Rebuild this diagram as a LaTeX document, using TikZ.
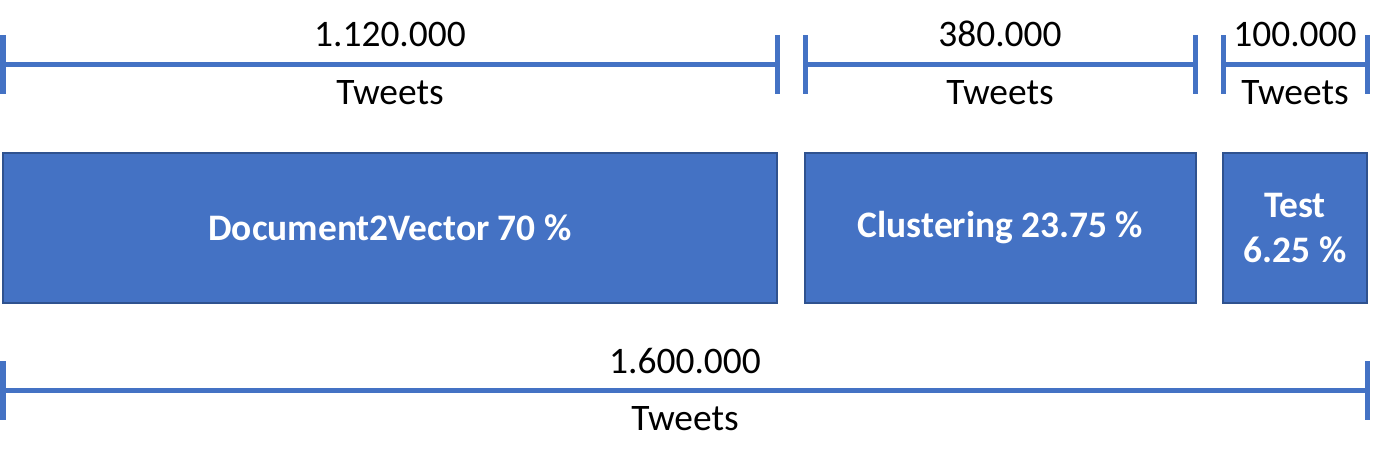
\documentclass[tikz,border=0pt]{standalone}
\usepackage{fontspec}
\setmainfont{Carlito}
\usepackage{tikz}
\usetikzlibrary{arrows.meta,positioning}
\definecolor{barblue}{HTML}{4472C4}
\definecolor{edgeblue}{HTML}{2F528F}
\tikzset{font=\fontsize{21.3}{25.6}\selectfont}
\tikzstyle{part}=[draw=edgeblue,fill=barblue,line width=1.1pt,text=white,font=\fontsize{21.3}{25.6}\selectfont\bfseries,align=center,minimum height=3cm,inner sep=0pt]
\tikzstyle{span}=[barblue,line width=2.85pt,{Bar[width=1.18cm]}-{Bar[width=1.18cm]}]
\tikzstyle{count}=[text=black,anchor=base,yshift=0.35cm]
\tikzstyle{unit}=[text=black,anchor=base,yshift=-0.81cm]

\begin{document}
\begin{tikzpicture}
  [x=0.02cm,y=-0.02cm]
\useasboundingbox (0,0) rectangle (1399,465);
\node[part,minimum width=15.48cm] (d2v) at (390,228) {Document2Vector 70 \%};
\node[part,minimum width=7.82cm] (clu) at (1000.5,228) {Clustering 23.75 \%};
\node[part,minimum width=2.88cm] (tst) at (1295,228) {Test\\6.25 \%};
\coordinate (l1) at (0.5,64.5);
\coordinate (r1) at (779.5,64.5);
\coordinate (l2) at (802.5,64.5);
\coordinate (r2) at (1197.5,64.5);
\coordinate (l3) at (1220.5,64.5);
\coordinate (r3) at (1369.5,64.5);
\coordinate (l4) at (0.5,390.5);
\coordinate (r4) at (1369.5,390.5);
\path[span]
(l1) edge node[count]{1.120.000} node[unit]{Tweets} (r1)
(l2) edge node[count]{380.000} node[unit]{Tweets} (r2)
(l3) edge node[count]{100.000} node[unit]{Tweets} (r3)
(l4) edge node[count]{1.600.000} node[unit]{Tweets} (r4);
\end{tikzpicture}
\end{document}
